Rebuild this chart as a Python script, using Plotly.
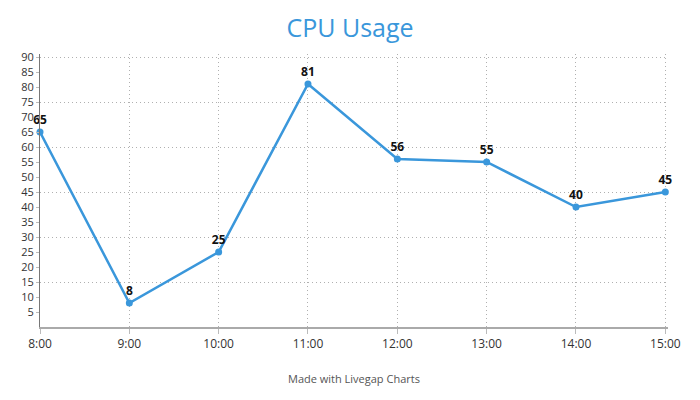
import plotly.graph_objects as go

hours = ["8:00", "9:00", "10:00", "11:00", "12:00", "13:00", "14:00", "15:00"]
cpu_usage = [65, 8, 25, 81, 56, 55, 40, 45]
y_tick_values = list(range(5, 95, 5))
grid_values = list(range(15, 95, 15))

blue = "#3a97db"
grid_col = "#b0b0b0"

fig = go.Figure()
fig.add_trace(go.Scatter(
    x=list(range(len(hours))), y=cpu_usage,
    mode="lines+markers+text",
    text=[str(v) for v in cpu_usage],
    textposition="top center",
    textfont=dict(family="Open Sans", size=12, color="#111111", weight="bold"),
    line=dict(color=blue, width=2.5),
    marker=dict(color=blue, size=7),
    cliponaxis=False,
    hoverinfo="skip",
    showlegend=False,
))
# invisible trace to hold grid axis
fig.add_trace(go.Scatter(x=[0], y=[0], yaxis="y2", mode="markers",
                         marker=dict(opacity=0), showlegend=False, hoverinfo="skip"))

fig.update_layout(
    width=700, height=400,
    margin=dict(l=40, r=32, t=54, b=73),
    paper_bgcolor="white", plot_bgcolor="white",
    title=dict(text="CPU Usage", x=0.5, xanchor="center", y=0.93, yanchor="middle",
               font=dict(family="Open Sans", size=25, color=blue)),
    font=dict(family="Open Sans", size=12, color="#333333"),
    xaxis=dict(
        range=[0, 7.03],
        tickvals=list(range(len(hours))), ticktext=hours,
        showgrid=True, gridcolor=grid_col, griddash="1px,3px", gridwidth=1,
        showline=True, linecolor="#aaaaaa", linewidth=2,
        ticks="outside", ticklen=5, tickcolor="#bbbbbb",
        zeroline=False,
        tickfont=dict(family="Open Sans", size=12, color="#333333"),
    ),
    yaxis=dict(
        range=[0, 91],
        tickvals=y_tick_values,
        showgrid=False, zeroline=False,
        showline=True, linecolor="#777777", linewidth=1,
        ticks="outside", ticklen=3, tickcolor="#bbbbbb",
        tickfont=dict(family="Open Sans", size=11, color="#333333"),
    ),
    yaxis2=dict(
        range=[0, 91], overlaying="y", tickvals=grid_values,
        showticklabels=False, showgrid=True, gridcolor=grid_col, griddash="1px,3px",
        gridwidth=1, zeroline=False, showline=False, ticks="",
    ),
    annotations=[dict(text="Made with Livegap Charts", x=0.5, xref="paper",
                      y=-0.19, yref="paper", yanchor="middle", showarrow=False,
                      font=dict(family="Open Sans", size=11, color="#555555"))],
)
fig.write_html("out.html")
